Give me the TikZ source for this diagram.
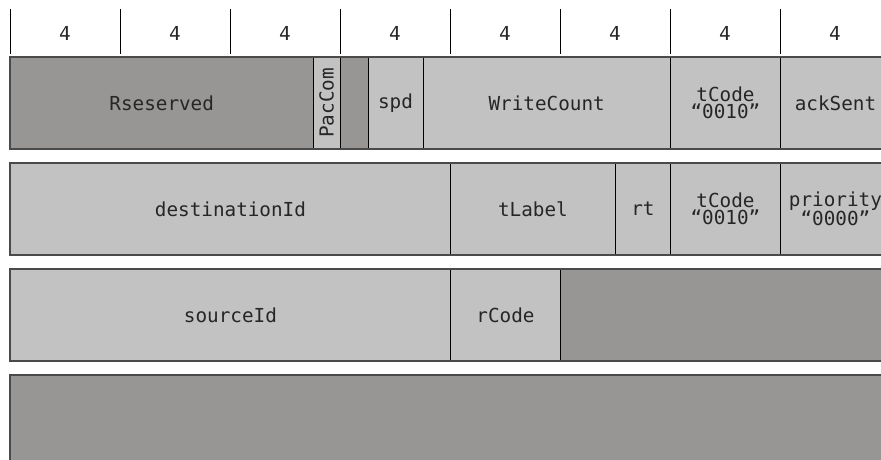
\documentclass[tikz,border=0pt]{standalone}
\usepackage{fontspec}
\newfontfamily\fieldfont{DejaVu Sans Mono}
\definecolor{litegray}{HTML}{C2C2C2}
\definecolor{darkgray}{HTML}{979694}
\definecolor{inkgray}{HTML}{262626}
\definecolor{framegray}{HTML}{4A4A4A}
\tikzset{
  field/.style={draw=black, line width=0.9pt, fill=litegray, rectangle,
    inner sep=0pt, anchor=north west, minimum height=91pt,
    text=inkgray, align=center,
    font={\fieldfont\fontsize{19.3}{17.5}\selectfont}},
  resv/.style={field, fill=darkgray},
  rowframe/.style={draw=framegray, line width=1.4pt},
  nibble/.style={text=inkgray, font={\fieldfont\fontsize{19.3}{17.5}\selectfont}},
  tick/.style={draw=black, line width=0.9pt}
}
\begin{document}
\begin{tikzpicture}[x=1pt,y=-1pt]
  \useasboundingbox (0,0) rectangle (881,460);
  \clip (0,0) rectangle (881,460);
  \fill[white] (0,0) rectangle (881,460);

  % nibble ruler
  \foreach \i in {0,...,7} {
    \draw[tick] (10+110*\i,9) -- (10+110*\i,54);
    \node[nibble] (n\i) at (65+110*\i,33) {4};
  }

  % word 1
  \node[resv,  minimum width=302.5pt] (rsv)   at (10,57)    {Rseserved};
  \node[field, minimum width=27.5pt]  (pcbox) at (312.5,57) {};
  \node[field, rotate=90, minimum width=91pt, minimum height=0pt, draw=none, fill=none]
       (pac) at (pcbox.center) [anchor=center] {PacCom};
  \node[resv,  minimum width=27.5pt]  (rsv2)  at (340,57)   {};
  \node[field, minimum width=55pt]    (spd)   at (367.5,57) {spd};
  \node[field, minimum width=247.5pt] (wc)    at (422.5,57) {WriteCount};
  \node[field, minimum width=110pt]   (tc1)   at (670,57)   {tCode\\“0010”};
  \node[field, minimum width=110pt]   (ack)   at (780,57)   {ackSent};
  \draw[rowframe] (rsv.north west) rectangle (ack.south east);

  % word 2
  \node[field, minimum width=440pt]   (dst)   at (10,163)   {destinationId};
  \node[field, minimum width=165pt]   (tl)    at (450,163)  {tLabel};
  \node[field, minimum width=55pt]    (rt)    at (615,163)  {rt};
  \node[field, minimum width=110pt]   (tc2)   at (670,163)  {tCode\\“0010”};
  \node[field, minimum width=110pt]   (pri)   at (780,163)  {priority\\“0000”};
  \draw[rowframe] (dst.north west) rectangle (pri.south east);

  % word 3
  \node[field, minimum width=440pt]   (src)   at (10,269)   {sourceId};
  \node[field, minimum width=110pt]   (rc)    at (450,269)  {rCode};
  \node[resv,  minimum width=330pt]   (rsv3)  at (560,269)  {};
  \draw[rowframe] (src.north west) rectangle (rsv3.south east);

  % word 4
  \node[resv,  minimum width=880pt]   (rsv4)  at (10,375)   {};
  \draw[rowframe] (rsv4.north west) rectangle (rsv4.south east);
\end{tikzpicture}
\end{document}
